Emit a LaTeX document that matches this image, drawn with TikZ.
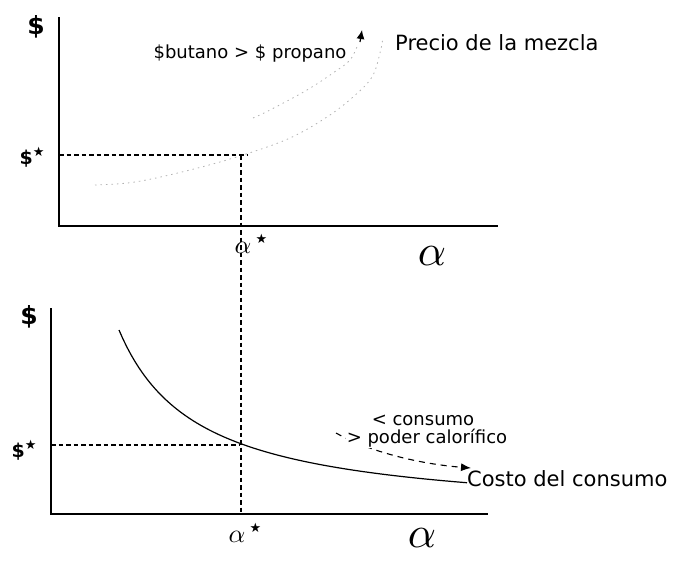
\documentclass[tikz,border=0pt]{standalone}
\usepackage{fontspec}
\setmainfont{DejaVu Sans}
\usetikzlibrary{arrows.meta}
\tikzset{
    axis-line/.style = {draw=black, line width=1.6pt},
    guide-line/.style = {draw=black, dash pattern=on 4.5pt off 3pt, line width=1.1pt},
    faint-curve/.style = {draw=black!30, dash pattern=on 1.5pt off 4pt, line width=0.8pt},
    cost-curve/.style = {draw=black, line width=1.2pt},
    note-text/.style = {font=\fontsize{18}{20}\selectfont, inner sep=0pt},
    name-text/.style = {font=\fontsize{21}{24}\selectfont, inner sep=0pt},
    dollar-label/.style = {font=\bfseries\fontsize{25}{28}\selectfont, inner sep=0pt},
    star-label/.style = {font=\bfseries\fontsize{19}{22}\selectfont, inner sep=0pt},
    alpha-label/.style = {inner sep=0pt, scale=4.4},
    alpha-star/.style = {inner sep=0pt, scale=2.6},
}
\newcommand{\starmark}[1]{\raisebox{0.4em}{\fontsize{#1}{#1}\selectfont ★}}

\begin{document}
\begin{tikzpicture}[x=1pt, y=-1pt]
\useasboundingbox (0,0) rectangle (677,568);
% upper graph: price of the mixture
\coordinate (top-origin) at (59,226);
\coordinate (top-yend) at (59,17);
\coordinate (top-xend) at (498,226);
\draw[axis-line] (top-yend) -- (top-origin) -- (top-xend);
\node[dollar-label] (top-dollar) at (36,27) {\$};
\node[star-label] (top-star) at (32,157) {\$\starmark{13}};
\node[alpha-label] (top-alpha) at (432,256) {$\alpha$};
\node[alpha-star, anchor=west] (top-astar) at (234,244) {$\alpha$\,\starmark{5}};
\draw[faint-curve] plot[smooth, tension=0.6] coordinates {(95,185) (135,182) (190,170) (243,155) (290,138) (327,117) (353,97) (372,77) (380,53) (383,37)};
\draw[faint-curve] plot[smooth, tension=0.6] coordinates {(253,118) (270,110) (307,90) (333,73) (350,60) (358,44)};
\coordinate (shift-start) at (360,42);
\coordinate (shift-end) at (362,30);
\draw[-{Latex[length=9pt, width=8pt]}, line width=1.2pt] (shift-start) -- (shift-end);
\node[note-text] (butano) at (250,54) {\$butano > \$ propano};
\node[name-text, anchor=west] (mezcla) at (395,43) {Precio de la mezcla};
\coordinate (top-guide) at (248,155);
\coordinate (top-foot) at (241,155);
\draw[guide-line] (top-origin |- top-guide) -- (top-guide);
% lower graph: cost of consumption
\coordinate (bot-origin) at (51,514);
\coordinate (bot-yend) at (51,308);
\coordinate (bot-xend) at (488,514);
\draw[axis-line] (bot-yend) -- (bot-origin) -- (bot-xend);
\node[dollar-label] (bot-dollar) at (29,317) {\$};
\node[star-label] (bot-star) at (24,450) {\$\starmark{13}};
\node[alpha-label] (bot-alpha) at (422,538) {$\alpha$};
\node[alpha-star, anchor=west] (bot-astar) at (228,533) {$\alpha$\,\starmark{5}};
\draw[cost-curve] plot[domain=119:467, samples=90] (\x, {517.4-14804/(\x-40)});
\coordinate (cost-end) at (467,479);
\node[name-text, anchor=west] (costo) at (cost-end) {Costo del consumo};
\coordinate (bot-cross) at (240,445);
\draw[guide-line] (bot-origin |- bot-cross) -- (bot-cross);
\draw[guide-line] (top-foot) -- (top-foot |- bot-origin);
\coordinate (calor-start) at (336,433);
\coordinate (calor-end) at (471,468);
\draw[guide-line, dash pattern=on 6pt off 5pt, -{Latex[length=10pt, width=8pt]}] (calor-start) .. controls (370,452) and (420,464) .. (calor-end);
\node[note-text] (consumo) at (423,420) {< consumo};
\node[note-text, fill=white, inner sep=1pt] (calor) at (427,438) {> poder calorífico};
\end{tikzpicture}
\end{document}
